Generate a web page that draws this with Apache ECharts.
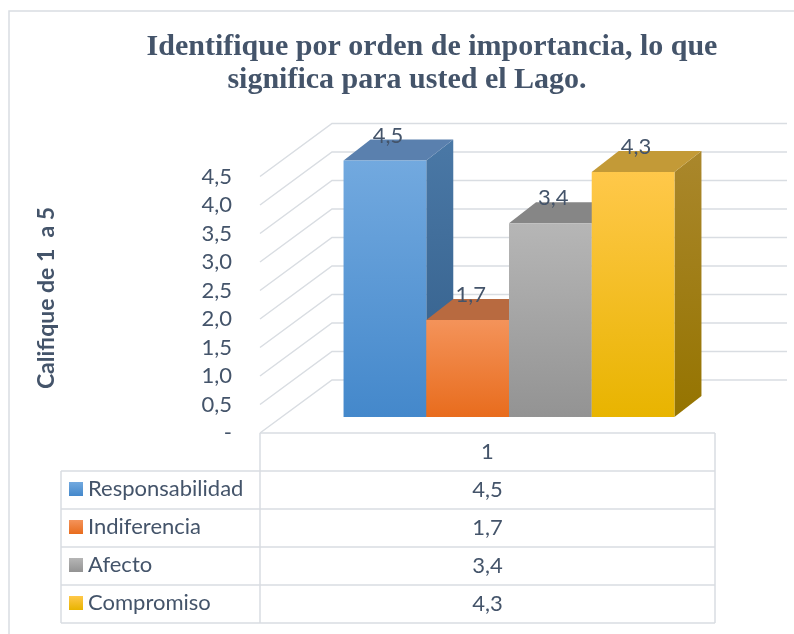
<!DOCTYPE html>
<html>
<head>
<meta charset="utf-8">
<script src="https://cdn.jsdelivr.net/npm/echarts@6/dist/echarts.min.js"></script>
<style>
  html, body { margin: 0; padding: 0; background: #fff; }
  #main { width: 794px; height: 634px; }
</style>
</head>
<body>
<div id="main"></div>
<script>
// datos del grafico
var categorias = ['1'];
var nombres = ['Responsabilidad', 'Indiferencia', 'Afecto', 'Compromiso'];
var valores = [4.5, 1.7, 3.4, 4.3];
var marcasEje = [0, 0.5, 1, 1.5, 2, 2.5, 3, 3.5, 4, 4.5];

var TXT = '#44546a';
var LINEA = '#d9dde2';
var FUENTE = 'Lato';

// profundidad (falso 3D)
var OFF_BARRA = [21.5, -16]; // frente de la barra respecto al plano frontal
var PROF_BARRA = [27, -21];  // profundidad de la barra
var PROF_PARED = [72, -53];  // pared del fondo

var estilos = [
  { frente: ['#72a9df', '#4488cb'], lado: ['#4a78a6', '#325d88'], tapa: '#5a80ae' },
  { frente: ['#f4935a', '#e86c1d'], lado: ['#b0612e', '#9c5220'], tapa: '#b86a40' },
  { frente: ['#b6b6b6', '#939393'], lado: ['#7a7a7a', '#666666'], tapa: '#868686' },
  { frente: ['#ffc84a', '#e8b400'], lado: ['#aa872c', '#957400'], tapa: '#c39a37' }
];

function grad(c) {
  return new echarts.graphic.LinearGradient(0, 0, 0, 1, [
    { offset: 0, color: c[0] }, { offset: 1, color: c[1] }
  ]);
}

function fmt(v) {
  return v.toFixed(1).replace('.', ',');
}

function barra(i) {
  var e = estilos[i];
  return function (params, api) {
    var tope = api.coord([api.value(0), api.value(1)]);
    var base = api.coord([api.value(0), 0]);
    var anchoCat = api.size([1, 0])[0];
    var w = anchoCat / 5.5;
    var x0 = tope[0] - 2 * w + i * w + OFF_BARRA[0];
    var x1 = x0 + w;
    var yt = tope[1] + OFF_BARRA[1];
    var yb = base[1] + OFF_BARRA[1];
    var dx = PROF_BARRA[0], dy = PROF_BARRA[1];
    return {
      type: 'group',
      children: [
        {
          type: 'polygon',
          shape: { points: [[x1, yt], [x1 + dx, yt + dy], [x1 + dx, yb + dy], [x1, yb]] },
          style: { fill: grad(e.lado) }
        },
        {
          type: 'polygon',
          shape: { points: [[x0, yt], [x0 + dx, yt + dy], [x1 + dx, yt + dy], [x1, yt]] },
          style: { fill: e.tapa }
        },
        {
          type: 'rect',
          shape: { x: x0, y: yt, width: w, height: yb - yt },
          style: { fill: grad(e.frente) }
        },
        {
          type: 'text',
          x: x0 + w / 2 + 3,
          y: yt + dy - 4,
          style: {
            text: fmt(api.value(1)),
            fill: TXT, font: '22px ' + FUENTE,
            align: 'center', verticalAlign: 'middle'
          }
        }
      ]
    };
  };
}

function paredes(params, api) {
  var cs = params.coordSys;
  var p = api.coord([0, api.value(1)]);
  var x = cs.x, y = p[1];
  return {
    type: 'polyline',
    shape: { points: [[x, y], [x + PROF_PARED[0], y + PROF_PARED[1]], [x + cs.width + PROF_PARED[0], y + PROF_PARED[1]]] },
    style: { stroke: LINEA, lineWidth: 1.5, fill: null }
  };
}

var series = [{
  type: 'custom',
  name: 'paredes',
  silent: true,
  z: 1,
  renderItem: paredes,
  data: marcasEje.map(function (v) { return [0, v]; })
}];
nombres.forEach(function (n, i) {
  series.push({
    type: 'custom',
    name: n,
    z: 2 + i,
    itemStyle: { color: grad(estilos[i].frente) },
    renderItem: barra(i),
    data: [[0, valores[i]]]
  });
});

// tabla de datos
var tIzq = 61, tDiv = 260, tDer = 715, tTop = 433, fila = 38;
var gr = [];
function linea(x1, y1, x2, y2) {
  gr.push({ type: 'line', shape: { x1: x1, y1: y1, x2: x2, y2: y2 }, style: { stroke: LINEA, lineWidth: 1.5 }, silent: true });
}
linea(tDiv, tTop, tDer, tTop);
for (var r = 1; r <= nombres.length + 1; r++) {
  linea(tIzq, tTop + r * fila, tDer, tTop + r * fila);
}
linea(tIzq, tTop + fila, tIzq, tTop + (nombres.length + 1) * fila);
linea(tDiv, tTop, tDiv, tTop + (nombres.length + 1) * fila);
linea(tDer, tTop, tDer, tTop + (nombres.length + 1) * fila);
gr.push({
  type: 'text', x: (tDiv + tDer) / 2, y: tTop + fila / 2,
  style: { text: categorias[0], fill: TXT, font: '22px ' + FUENTE, align: 'center', verticalAlign: 'middle' }
});
valores.forEach(function (v, i) {
  gr.push({
    type: 'text', x: (tDiv + tDer) / 2, y: tTop + fila * (i + 1.5),
    style: { text: fmt(v), fill: TXT, font: '22px ' + FUENTE, align: 'center', verticalAlign: 'middle' }
  });
});
// titulo del eje
gr.push({
  type: 'text', x: 47, y: 298, rotation: Math.PI / 2,
  style: { text: 'Califique de 1  a 5', fill: TXT, font: 'bold 23px ' + FUENTE, align: 'center', verticalAlign: 'middle' }
});
// borde exterior
gr.push({
  type: 'rect', shape: { x: 9, y: 11, width: 820, height: 660 },
  style: { fill: null, stroke: LINEA, lineWidth: 1.5 }, silent: true
});

var chart = echarts.init(document.getElementById('main'));
chart.setOption({
  animation: false,
  title: [
    {
      text: 'Identifique por orden de importancia, lo que',
      left: 432, top: 32, textAlign: 'center', padding: 0,
      textStyle: { fontFamily: 'Liberation Serif', fontWeight: 'bold', fontSize: 30, color: TXT }
    },
    {
      text: 'significa para usted el Lago.',
      left: 407, top: 65, textAlign: 'center', padding: 0,
      textStyle: { fontFamily: 'Liberation Serif', fontWeight: 'bold', fontSize: 30, color: TXT }
    }
  ],
  legend: {
    data: nombres,
    orient: 'vertical',
    left: 69, top: 478, height: 200,
    itemWidth: 14, itemHeight: 14, itemGap: 16,
    icon: 'rect', padding: 0,
    selectedMode: false,
    textStyle: { color: TXT, fontSize: 22, fontFamily: FUENTE }
  },
  grid: { left: 260, right: 79, top: 176.5, bottom: 201 },
  xAxis: {
    type: 'category', data: categorias, show: false
  },
  yAxis: {
    type: 'value', min: 0, max: 4.5, interval: 0.5,
    axisLine: { show: false }, axisTick: { show: false }, splitLine: { show: false },
    axisLabel: {
      margin: 28, color: TXT, fontSize: 22, fontFamily: FUENTE,
      formatter: function (v) { return v === 0 ? '-' : fmt(v); }
    }
  },
  graphic: gr,
  series: series
});
</script>
</body>
</html>
